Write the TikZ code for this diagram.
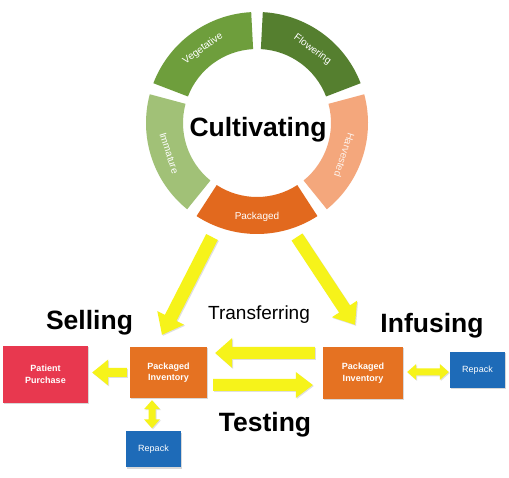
\documentclass[tikz,border=0pt]{standalone}
\usepackage{fontspec}
\setmainfont{Liberation Sans}
\usetikzlibrary{calc,shadows}
\definecolor{vegc}{HTML}{6E9E3C}
\definecolor{flowc}{HTML}{557F2F}
\definecolor{harvc}{HTML}{F4A77C}
\definecolor{packc}{HTML}{E2691E}
\definecolor{immc}{HTML}{A1C177}
\definecolor{patc}{HTML}{E8384F}
\definecolor{invc}{HTML}{E57222}
\definecolor{repc}{HTML}{1E6BB8}
\definecolor{arrc}{HTML}{F6F31A}
\tikzset{
  segtext/.style={text=white, font=\fontsize{10}{12}\selectfont, inner sep=0pt},
  box/.style={rectangle, inner sep=0pt, text=white, align=center,
    font=\bfseries\fontsize{9}{11.5}\selectfont,
    drop shadow={shadow xshift=1.2pt, shadow yshift=-1.2pt, opacity=0.3}},
  repbox/.style={box, fill=repc, minimum width=55pt, minimum height=36pt,
    font=\fontsize{9}{11}\selectfont},
  arrowfill/.style={fill=arrc, drop shadow={shadow xshift=1pt, shadow yshift=-1pt, opacity=0.25}},
  bigtitle/.style={font=\bfseries\fontsize{26.5}{30}\selectfont, anchor=base, inner sep=0pt},
}
% single-headed block arrow: start, tip, half shaft, half head, head length
\newcommand\blockarrow[5]{%
  \coordinate (ba) at #1; \coordinate (bb) at #2;
  \coordinate (bh) at ($(bb)!#5!(ba)$);
  \fill[arrowfill] ($(ba)!#3!90:(bb)$) -- ($(bh)!#3!90:(bb)$) -- ($(bh)!#4!90:(bb)$)
    -- (bb) -- ($(bh)!#4!-90:(bb)$) -- ($(bh)!#3!-90:(bb)$) -- ($(ba)!#3!-90:(bb)$) -- cycle;}
% double-headed block arrow
\newcommand\dblarrow[5]{%
  \coordinate (ba) at #1; \coordinate (bb) at #2;
  \coordinate (bh) at ($(bb)!#5!(ba)$);
  \coordinate (bg) at ($(ba)!#5!(bb)$);
  \fill[arrowfill] (ba) -- ($(bg)!#4!90:(bb)$) -- ($(bg)!#3!90:(bb)$) -- ($(bh)!#3!90:(bb)$)
    -- ($(bh)!#4!90:(bb)$) -- (bb) -- ($(bh)!#4!-90:(bb)$) -- ($(bh)!#3!-90:(bb)$)
    -- ($(bg)!#3!-90:(bb)$) -- ($(bg)!#4!-90:(bb)$) -- cycle;}
\newcommand\ringseg[3]{%
  \fill[#3] (#1:111) arc[start angle=#1, end angle=#2, radius=111]
    -- (#2:74) arc[start angle=#2, end angle=#1, radius=74] -- cycle;}
\begin{document}
\begin{tikzpicture}[x=1pt, y=1pt]
\useasboundingbox (0,0) rectangle (509,478);
\fill[white] (0,0) rectangle (509,478);

% ring
\begin{scope}[shift={(257,355)}]
  \ringseg{21}{87}{flowc}
  \ringseg{93}{159}{vegc}
  \ringseg{165}{231}{immc}
  \ringseg{237}{303}{packc}
  \ringseg{309}{375}{harvc}
  \node[segtext, rotate=36]  (lveg)  at (126:92) {Vegetative};
  \node[segtext, rotate=-36] (lflow) at (53:92)  {Flowering};
  \node[segtext, rotate=-108, text=white!85!harvc] (lharv) at (-20:93) {Harvested};
  \node[segtext] (lpack) at (270:94) {Packaged};
  \node[segtext, rotate=-72] (limm)  at (199:93) {Immature};
\end{scope}
\node[bigtitle] (cult) at (258,341) {Cultivating};

% boxes
\node[box, fill=patc, minimum width=85pt, minimum height=57pt] (pat) at (45.5,103.5) {Patient\\Purchase};
\node[box, fill=invc, minimum width=77pt, minimum height=51pt] (invL) at (168.5,105.5) {Packaged\\Inventory};
\node[box, fill=invc, minimum width=80pt, minimum height=52pt] (invR) at (363,105) {Packaged\\Inventory};
\node[repbox] (repB) at (153.5,28.5) {Repack};
\node[repbox] (repR) at (477.5,108) {Repack};

% titles
\node[bigtitle] (sell) at (89.5,148) {Selling};
\node[bigtitle] (infu) at (432,145) {Infusing};
\node[bigtitle] (test) at (265,46) {Testing};
\node[font=\fontsize{19}{22}\selectfont, anchor=base, inner sep=0pt] (trans) at (259,158) {Transferring};

% arrows
\coordinate (pkL) at (212,241);
\coordinate (pkR) at (297,241);
\blockarrow{(pkL)}{([xshift=-6.5pt,yshift=12pt]invL.north)}{6.5pt}{15pt}{19pt}
\blockarrow{(pkR)}{([xshift=-8pt,yshift=22pt]invR.north)}{6.5pt}{15pt}{19pt}
\blockarrow{([xshift=-8pt,yshift=20pt]invR.west)}{([xshift=8pt,yshift=19.5pt]invL.east)}{6pt}{15pt}{17pt}
\blockarrow{([xshift=6pt,yshift=-12.5pt]invL.east)}{([xshift=-10pt,yshift=-12pt]invR.west)}{6pt}{13pt}{17pt}
\blockarrow{([xshift=-3pt]invL.west)}{([xshift=4pt,yshift=2pt]pat.east)}{4.5pt}{13pt}{16pt}
\dblarrow{([xshift=-16.5pt,yshift=-2pt]invL.south)}{([xshift=-1.5pt,yshift=3pt]repB.north)}{3.5pt}{8pt}{9pt}
\dblarrow{([xshift=4pt,yshift=1pt]invR.east)}{([xshift=-1pt,yshift=-2pt]repR.west)}{3.5pt}{8pt}{9pt}
\end{tikzpicture}
\end{document}
